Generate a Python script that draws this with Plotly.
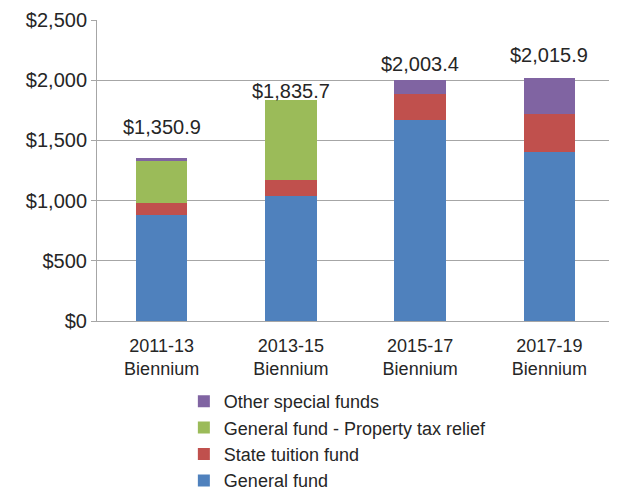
import plotly.graph_objects as go

categories = ["2011-13<br>Biennium", "2013-15<br>Biennium", "2015-17<br>Biennium", "2017-19<br>Biennium"]
general_fund = [880, 1035, 1670, 1407]
state_tuition = [98, 140, 218, 309]
property_tax_relief = [350, 661, 0, 0]
other_special = [23, 0, 115, 300]
totals = [1350.9, 1835.7, 2003.4, 2015.9]
total_labels = ["$1,350.9", "$1,835.7", "$2,003.4", "$2,015.9"]
y_ticks = [0, 500, 1000, 1500, 2000, 2500]
y_tick_labels = ["$0", "$500", "$1,000", "$1,500", "$2,000", "$2,500"]

label_shift = [31, 9, 16, 23]

FONT = "Liberation Sans, Arial, sans-serif"
FS = 20
TXT = "#262626"

fig = go.Figure()
series = [
    ("General fund", general_fund, "#4F81BD"),
    ("State tuition fund", state_tuition, "#C0504D"),
    ("General fund - Property tax relief", property_tax_relief, "#9BBB59"),
    ("Other special funds", other_special, "#8064A2"),
]
for name, vals, col in series:
    fig.add_trace(go.Bar(
        x=categories, y=vals, name=name,
        marker=dict(color=col, line=dict(width=0)),
        width=0.4,
    ))

for c, t, lab, s in zip(categories, totals, total_labels, label_shift):
    fig.add_annotation(x=c, y=t, text=lab, showarrow=False,
                       yanchor="middle", yshift=s,
                       font=dict(family=FONT, size=FS, color=TXT))

fig.update_layout(
    barmode="stack",
    width=609, height=486,
    margin=dict(l=89, r=3, t=12, b=173, autoexpand=False),
    plot_bgcolor="white", paper_bgcolor="white",
    font=dict(family=FONT, size=FS, color=TXT),
    showlegend=True,
    legend=dict(
        orientation="v", traceorder="reversed",
        x=0.168, y=-0.206, xanchor="left", yanchor="top",
        font=dict(family=FONT, size=18, color=TXT),
        itemclick=False, tracegroupgap=0,
    ),
    xaxis=dict(
        showgrid=False, showline=True, linecolor="#A6A6A6", linewidth=1,
        ticks="outside", ticklen=8, tickcolor="rgba(0,0,0,0)",
        tickfont=dict(size=18), automargin=False,
    ),
    yaxis=dict(
        range=[0, 2500], tickvals=y_ticks, ticktext=y_tick_labels,
        showgrid=True, gridcolor="#A6A6A6", gridwidth=1,
        showline=True, linecolor="#A6A6A6", linewidth=1,
        ticks="outside", ticklen=5, tickcolor="#A6A6A6",
        tickfont=dict(size=FS), automargin=False,
        zeroline=False,
    ),
)

fig.write_html("out.html")
